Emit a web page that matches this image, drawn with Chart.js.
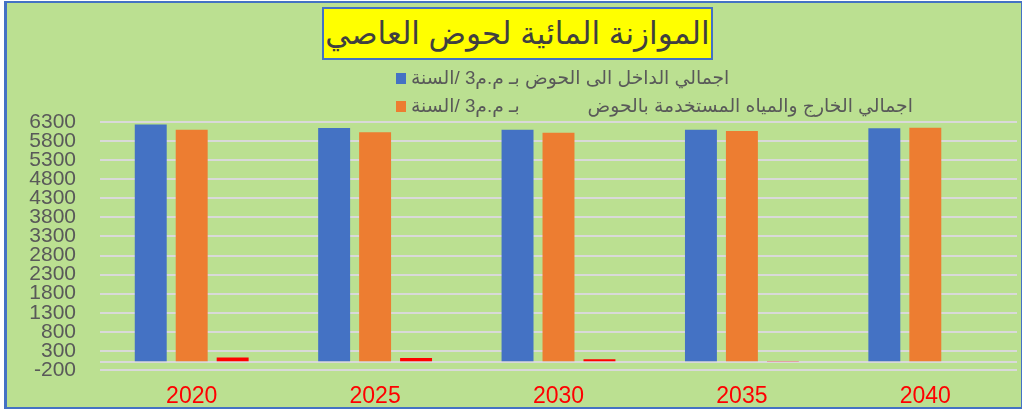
<!DOCTYPE html>
<html>
<head>
<meta charset="utf-8">
<script src="https://cdn.jsdelivr.net/npm/chart.js@4/dist/chart.umd.min.js"></script>
<style>
  html, body { margin: 0; padding: 0; }
  body { width: 1022px; height: 409px; overflow: hidden; background: #ffffff; }
  .frame {
    position: absolute; left: 4px; top: 1px; width: 1014px; height: 404px;
    background: #bbe091; border: 2px solid #4472c4; border-left-width: 3px;
  }
  #chart { position: absolute; left: 0; top: 0; }
  .title {
    position: absolute; left: 322px; top: 7px; width: 387px; height: 49px;
    background: #ffff00; border: 2px solid #4472c4;
    font-family: "Liberation Sans", "DejaVu Sans", sans-serif; font-size: 31px;
    color: #404040; text-align: center; line-height: 49px; direction: rtl;
  }
  .legend-row {
    position: absolute; left: 396px; height: 20px; line-height: 20px;
    font-family: "Liberation Sans", "DejaVu Sans", sans-serif; font-size: 18.8px;
    color: #595959; white-space: pre;
  }
  .legend-row .box { display: inline-block; width: 10px; height: 11px; vertical-align: middle; margin-right: 5px; }
  .legend-row .txt { vertical-align: middle; direction: rtl; unicode-bidi: embed; }
</style>
</head>
<body>
<div class="frame"></div>
<canvas id="chart" width="1022" height="409"></canvas>
<div class="title" id="title"></div>
<div id="legend"></div>
<script>
const chartTitle = "الموازنة المائية لحوض العاصي";
const years = ["2020", "2025", "2030", "2035", "2040"];
const inflowLabel = "اجمالي الداخل الى الحوض بـ م.م3 /السنة";
const outflowLabel = "اجمالي الخارج والمياه المستخدمة بالحوض             بـ م.م3 /السنة";
const inflow = [6232, 6142, 6100, 6100, 6134];
const outflow = [6100, 6030, 6021, 6064, 6152];
const balance = [130, 115, 80, 35, 0];
const yTicks = [-200, 0, 300, 800, 1300, 1800, 2300, 2800, 3300, 3800, 4300, 4800, 5300, 5800, 6300];

const colors = ["#4472c4", "#ed7d31", "#ff0000"];

document.getElementById("title").textContent = chartTitle;

// html legend, only the first two series are listed
const legend = document.getElementById("legend");
[inflowLabel, outflowLabel].forEach((label, i) => {
  const row = document.createElement("div");
  row.className = "legend-row";
  row.style.top = (67 + i * 28) + "px";
  row.innerHTML = `<span class="box" style="background:${colors[i]}"></span><span class="txt"></span>`;
  row.querySelector(".txt").textContent = label;
  legend.appendChild(row);
});

const ctx = document.getElementById("chart").getContext("2d");
const fontFamily = '"Liberation Sans", "DejaVu Sans", sans-serif';

new Chart(ctx, {
  type: "bar",
  data: {
    labels: years,
    datasets: [
      { label: inflowLabel, data: inflow, backgroundColor: colors[0] },
      { label: outflowLabel, data: outflow, backgroundColor: colors[1] },
      { label: "balance", data: balance, backgroundColor: colors[2] }
    ]
  },
  options: {
    responsive: false,
    animation: false,
    categoryPercentage: 0.67,
    barPercentage: 0.78,
    layout: { padding: { left: 0, right: 5, top: 122, bottom: 5 } },
    plugins: {
      legend: { display: false },
      tooltip: { enabled: false }
    },
    scales: {
      x: {
        grid: { display: false },
        border: { display: false },
        ticks: {
          color: "#ff0000",
          font: { family: fontFamily, size: 23 },
          padding: 5
        },
        afterFit: (scale) => { scale.height = 34; }
      },
      y: {
        min: -200,
        max: 6300,
        border: { display: false },
        grid: { color: "#d9d9d9", lineWidth: 2, drawTicks: false },
        afterBuildTicks: (scale) => {
          scale.ticks = yTicks.map((v) => ({ value: v }));
        },
        ticks: {
          autoSkip: false,
          color: "#595959",
          font: { family: fontFamily, size: 21 },
          padding: 24,
          callback: (v) => (v === 0 ? "" : v)
        },
        afterFit: (scale) => { scale.width = 100; }
      }
    }
  }
});
</script>
</body>
</html>
